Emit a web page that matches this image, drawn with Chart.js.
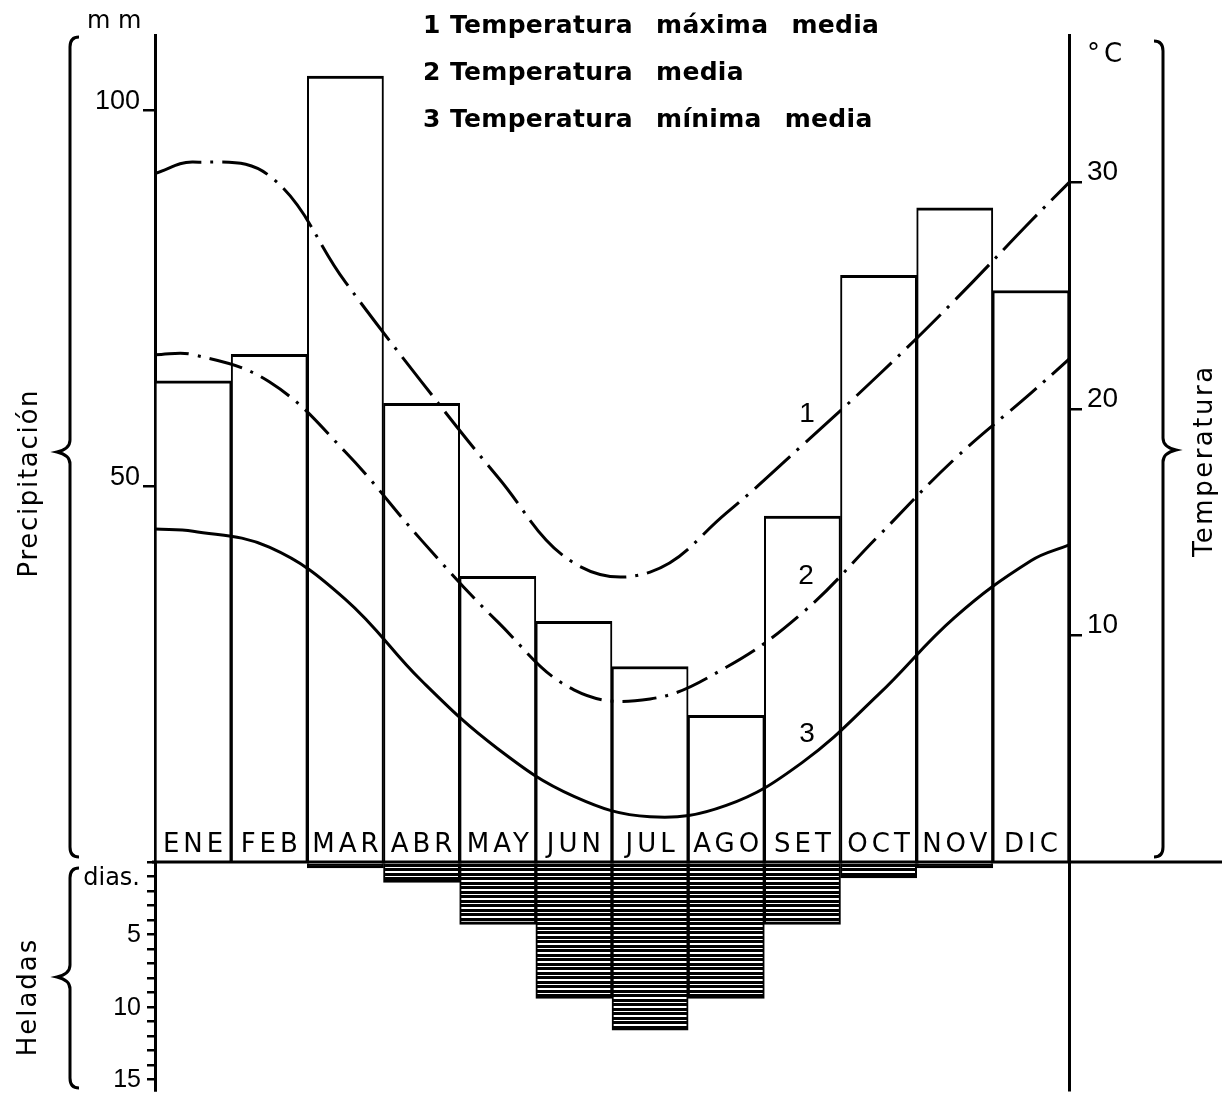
<!DOCTYPE html>
<html>
<head>
<meta charset="utf-8">
<script src="https://cdn.jsdelivr.net/npm/chart.js@4/dist/chart.umd.min.js"></script>
<style>
  html, body { margin: 0; padding: 0; background: #fff; }
</style>
</head>
<body>
<canvas id="clima" width="1222" height="1096"></canvas>
<script>
const meses = ['ENE','FEB','MAR','ABR','MAY','JUN','JUL','AGO','SET','OCT','NOV','DIC'];
const precipitacion = [64, 67.5, 104.5, 61, 38, 32, 26, 19.5, 46, 78, 87, 76];
const diasHelada = [0, 0, 0.4, 1.4, 4.3, 9.4, 11.6, 9.4, 4.3, 1.1, 0.4, 0];
// posicion en meses: 0 = principio de enero, 0.5 = mitad de enero ... 12 = fin de diciembre
const posicion = [0, 0.5, 1.5, 2.5, 3.5, 4.5, 5.5, 6.5, 7.5, 8.5, 9.5, 10.5, 11.5, 12];
const tMaxima = [30.4, 30.9, 30.3, 25.6, 21.2, 17.0, 13.2, 12.8, 15.4, 18.4, 21.5, 24.8, 28.3, 30.0];
const tMedia  = [22.4, 22.4, 21.2, 18.1, 14.2, 10.6, 7.6, 7.2, 8.6, 11.0, 14.4, 17.8, 20.7, 22.2];
const tMinima = [14.7, 14.6, 13.9, 11.6, 8.0, 5.0, 2.9, 2.0, 2.5, 4.4, 7.4, 10.8, 13.3, 14.0];
const ticksMm = [50, 100];
const ticksTemp = [10, 20, 30];
const ticksDias = [5, 10, 15];
const leyenda = ['Temperatura máxima media', 'Temperatura media', 'Temperatura mínima media'];

// geometria del dibujo (px)
const BASE = 862, ARRIBA = 35, ABAJO = 1090;
const pxMm = 7.52, pxGrado = 22.65, pxDia = 14.5;
const rango = px => ({ min: -(ABAJO - BASE) / px, max: (BASE - ARRIBA) / px });
// eje de heladas invertido: hacia abajo crecen los dias
const rangoInv = px => ({ min: -(BASE - ARRIBA) / px, max: (ABAJO - BASE) / px });

const LETRA = '"DejaVu Sans", sans-serif';
const NUM = '"Liberation Sans", Arial, sans-serif';

function rayado() {
  const c = document.createElement('canvas');
  c.width = 4; c.height = 9;
  const g = c.getContext('2d');
  g.fillStyle = '#fff'; g.fillRect(0, 0, 4, 9);
  g.fillStyle = '#000'; g.fillRect(0, 0, 4, 3); g.fillRect(0, 4, 4, 3);
  return g.createPattern(c, 'repeat');
}

function linea(valores, trazo) {
  return {
    type: 'line',
    data: posicion.map((x, i) => ({ x, y: valores[i] })),
    xAxisID: 'xT', yAxisID: 'yT',
    borderColor: '#000', borderWidth: 3, borderDash: trazo,
    pointRadius: 0, tension: 0.4, fill: false
  };
}

function llave(ctx, x, y1, y2, ym, dir) {
  // dir -1: punta hacia la izquierda, 1: hacia la derecha
  ctx.beginPath();
  ctx.moveTo(x - dir * 9, y1);
  ctx.quadraticCurveTo(x, y1, x, y1 + 10);
  ctx.lineTo(x, ym - 12);
  ctx.quadraticCurveTo(x, ym - 3, x + dir * 13, ym);
  ctx.quadraticCurveTo(x, ym + 3, x, ym + 12);
  ctx.lineTo(x, y2 - 10);
  ctx.quadraticCurveTo(x, y2, x - dir * 9, y2);
  ctx.stroke();
}

function vertical(ctx, txt, x, y, esp) {
  ctx.save();
  ctx.translate(x, y);
  ctx.rotate(-Math.PI / 2);
  ctx.letterSpacing = esp + 'px';
  ctx.textAlign = 'center';
  ctx.textBaseline = 'alphabetic';
  ctx.fillText(txt, esp / 2, 0);
  ctx.restore();
}

const decoracion = {
  id: 'decoracion',
  afterDraw(chart) {
    const { ctx, chartArea: a, scales } = chart;
    const y0 = scales.yP.getPixelForValue(0);
    ctx.save();
    ctx.strokeStyle = '#000';
    ctx.fillStyle = '#000';

    // linea base
    ctx.lineWidth = 3;
    ctx.beginPath();
    ctx.moveTo(a.left - 3, y0);
    ctx.lineTo(chart.width, y0);
    ctx.stroke();

    // meses dentro de las barras
    ctx.font = '26px ' + LETRA;
    ctx.letterSpacing = '4px';
    ctx.textAlign = 'center';
    ctx.textBaseline = 'alphabetic';
    meses.forEach((m, i) => ctx.fillText(m, scales.x.getPixelForValue(i) + 2, y0 - 10));

    // etiquetas del eje de heladas
    ctx.letterSpacing = '0px';
    ctx.font = '25px ' + NUM;
    ctx.textAlign = 'right';
    ctx.textBaseline = 'middle';
    ticksDias.forEach(d => ctx.fillText(String(d), a.left - 14, scales.yF.getPixelForValue(d) + 1));

    // leyenda
    ctx.textAlign = 'left';
    ctx.textBaseline = 'alphabetic';
    ctx.letterSpacing = '0.3px';
    ctx.wordSpacing = '14px';
    ctx.font = 'bold 25px ' + LETRA;
    leyenda.forEach((t, i) => {
      const yb = 33 + i * 47;
      ctx.fillText(String(i + 1), 423, yb);
      ctx.fillText(t, 450, yb);
    });
    ctx.wordSpacing = '0px';

    // numeros de las curvas
    ctx.font = '28px ' + NUM;
    ctx.letterSpacing = '0px';
    ctx.textAlign = 'center';
    ctx.textBaseline = 'middle';
    ctx.fillText('1', 807, 414);
    ctx.fillText('2', 806, 576);
    ctx.fillText('3', 807, 734);

    // unidades
    ctx.textBaseline = 'alphabetic';
    ctx.font = '24px ' + LETRA;
    ctx.textAlign = 'left';
    ctx.fillText('m m', 87, 28);
    ctx.letterSpacing = '4px';
    ctx.font = '26px ' + LETRA;
    ctx.fillText('°C', 1087, 62);
    ctx.letterSpacing = '0px';
    ctx.font = '24px ' + LETRA;
    ctx.textAlign = 'right';
    ctx.fillText('dias.', 140, 885);

    // titulos verticales
    ctx.font = '26px ' + LETRA;
    vertical(ctx, 'Precipitación', 37, 484, 1.7);
    vertical(ctx, 'Heladas', 36, 998, 2);
    vertical(ctx, 'Temperatura', 1212, 462, 2.5);

    // llaves
    ctx.lineWidth = 3;
    llave(ctx, 70, 37, 857, 452, -1);
    llave(ctx, 70, 868, 1088, 977, -1);
    llave(ctx, 1163, 41, 857, 450, 1);
    ctx.restore();
  }
};

const ejeY = (extra) => Object.assign({
  ticks: { color: '#000', font: { family: NUM, size: 26 }, padding: 4, autoSkip: false },
  grid: { drawOnChartArea: false, color: '#000', lineWidth: 2.5, tickLength: 12 },
  border: { color: '#000', width: 3 }
}, extra);

new Chart(document.getElementById('clima'), {
  type: 'bar',
  data: {
    labels: meses,
    datasets: [
      linea(tMaxima, [48, 9, 3, 9]),
      linea(tMedia, [34, 9, 3, 9]),
      linea(tMinima, []),
      {
        label: 'Precipitación', data: precipitacion, yAxisID: 'yP',
        backgroundColor: '#fff', borderColor: '#000',
        borderWidth: { top: 3, left: 2, right: 2, bottom: 0 },
        grouped: false, barPercentage: 1, categoryPercentage: 1
      },
      {
        label: 'Heladas', data: diasHelada, yAxisID: 'yF',
        backgroundColor: rayado(), borderColor: '#000',
        borderWidth: { top: 0, left: 2, right: 2, bottom: 3 },
        grouped: false, barPercentage: 1, categoryPercentage: 1
      }
    ]
  },
  options: {
    responsive: false,
    animation: false,
    devicePixelRatio: 1,
    layout: { padding: { top: ARRIBA, bottom: 1096 - ABAJO, left: 0, right: 0 } },
    plugins: { legend: { display: false }, tooltip: { enabled: false } },
    scales: {
      x: { type: 'category', display: false, offset: true },
      xT: { type: 'linear', display: false, offset: false, min: 0, max: 12 },
      yP: ejeY({
        position: 'left', weight: 1, ...rango(pxMm),
        afterBuildTicks: s => { s.ticks = ticksMm.map(v => ({ value: v })); },
        afterFit: s => { s.width = 155; s.paddingTop = 0; s.paddingBottom = 0; },
        ticks: { color: '#000', font: { family: NUM, size: 27 }, padding: 3, labelOffset: -8, autoSkip: false }
      }),
      yF: ejeY({
        position: 'left', weight: 0, reverse: true, ...rangoInv(pxDia),
        afterBuildTicks: s => {
          const t = [];
          for (let d = 0; d <= 15; d++) t.push({ value: d });
          s.ticks = t;
        },
        afterFit: s => { s.width = 0; s.paddingTop = 0; s.paddingBottom = 0; },
        grid: { drawOnChartArea: false, color: '#000', lineWidth: 2.5, tickLength: 8 },
        ticks: { display: false }
      }),
      yT: ejeY({
        position: 'right', ...rango(pxGrado),
        afterBuildTicks: s => { s.ticks = ticksTemp.map(v => ({ value: v })); },
        afterFit: s => { s.width = 1222 - 1069; s.paddingTop = 0; s.paddingBottom = 0; },
        grid: { drawOnChartArea: false, color: '#000', lineWidth: 2.5, tickLength: 13 },
        ticks: { color: '#000', font: { family: NUM, size: 28 }, padding: 5, labelOffset: -10, autoSkip: false }
      })
    }
  },
  plugins: [decoracion]
});
</script>
</body>
</html>
